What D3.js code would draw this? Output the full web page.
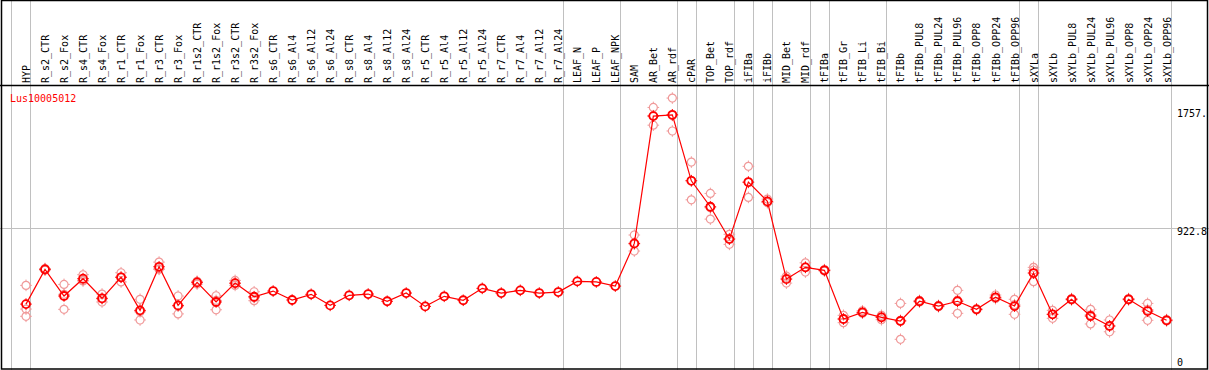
<!DOCTYPE html>
<html lang="en">
<head>
<meta charset="UTF-8">
<title>Lus10005012</title>
<script src="https://cdn.jsdelivr.net/npm/d3@7"></script>
<style>
  body { margin: 0; background: #fff; }
  text { font-family: "DejaVu Sans Mono", monospace; font-size: 10px; }
</style>
</head>
<body>
<script>
// sample names, in drawing order
const samples = ['HYP', 'R_s2_CTR', 'R_s2_Fox', 'R_s4_CTR', 'R_s4_Fox', 'R_r1_CTR', 'R_r1_Fox',
  'R_r3_CTR', 'R_r3_Fox', 'R_r1s2_CTR', 'R_r1s2_Fox', 'R_r3s2_CTR', 'R_r3s2_Fox',
  'R_s6_CTR', 'R_s6_Al4', 'R_s6_Al12', 'R_s6_Al24', 'R_s8_CTR', 'R_s8_Al4', 'R_s8_Al12', 'R_s8_Al24',
  'R_r5_CTR', 'R_r5_Al4', 'R_r5_Al12', 'R_r5_Al24', 'R_r7_CTR', 'R_r7_Al4', 'R_r7_Al12', 'R_r7_Al24',
  'LEAF_N', 'LEAF_P', 'LEAF_NPK', 'SAM', 'AR_Bet', 'AR_rdf', 'cPAR', 'TOP_Bet', 'TOP_rdf',
  'iFIBa', 'iFIBb', 'MID_Bet', 'MID_rdf', 'tFIBa', 'tFIB_Gr', 'tFIB_Li', 'tFIB_Bi',
  'tFIBb', 'tFIBb_PUL8', 'tFIBb_PUL24', 'tFIBb_PUL96', 'tFIBb_OPP8', 'tFIBb_OPP24', 'tFIBb_OPP96',
  'sXYLa', 'sXYLb', 'sXYLb_PUL8', 'sXYLb_PUL24', 'sXYLb_PUL96', 'sXYLb_OPP8', 'sXYLb_OPP24', 'sXYLb_OPP96'];

// mean expression per sample
const means = [389, 634, 446, 568, 430, 578, 345, 652, 380, 542, 404, 537, 441,
  481, 418, 458, 380, 451, 460, 409, 467,
  373, 444, 416, 500, 467, 486, 467, 474,
  549, 545, 516, 817, 1714, 1723, 1258, 1075, 847,
  1249, 1113, 565, 648, 627, 284, 331, 296,
  270, 409, 375, 409, 352, 437, 375,
  608, 317, 423, 305, 235, 423, 340, 275];

// replicate values (null = no replicates shown)
const reps = [[521, 354, 303], [640, 628, 634], [528, 352, 458], [596, 552, 556], [460, 404, 426],
  [610, 545, 579], [423, 277, 335], [685, 634, 637], [446, 320, 374], [550, 530, 546],
  [448, 349, 415], [556, 521, 534], [476, 413, 434],
  null, null, null, null, null, null, null, null,
  null, null, null, null, null, null, null, null,
  null, null, null, [876, 763, 812], [1775, 1650, 1717], [1841, 1609, 1719], [1390, 1124, 1260],
  [1169, 988, 1068], [881, 810, 850], [1360, 1141, 1246], [1129, 1105, 1105],
  [586, 537, 572], [680, 615, 649], [632, 622, 627], [310, 258, 284], [342, 325, 326], [310, 279, 299],
  [394, 141, 275], [415, 403, 409], [380, 370, 375], [486, 324, 417], [356, 348, 352], [453, 430, 428],
  [423, 317, 385], [648, 547, 629], [345, 289, 317], [428, 418, 423], [352, 249, 314], [277, 194, 234],
  [428, 418, 423], [394, 275, 351], [280, 270, 275]];

// number of samples in each tissue group (separated by vertical lines)
const groupSizes = [1, 28, 3, 3, 1, 2, 1, 1, 2, 1, 3, 7, 1, 7];

const yTicks = [0, 922.8, 1757];
const yTickLabels = ['0', '922.8', '1757.'];
const geneName = 'Lus10005012';

const W = 1209, H = 370;
const headerY = 85;

const svg = d3.select('body').append('svg')
  .attr('width', W)
  .attr('height', H);

const x = d3.scalePoint()
  .domain(samples)
  .range([26, 1166.6]);

const y = d3.scaleLinear()
  .domain([0, 1757])
  .range([359.3, 110]);

const step = x.step();

// vertical separators
let bounds = [-1];
let acc = -1;
groupSizes.forEach(n => { acc += n; bounds.push(acc); });

svg.append('g')
  .selectAll('line')
  .data(bounds)
  .enter()
  .append('line')
  .attr('x1', d => Math.round(26 + d * step + 4.4) + 0.5)
  .attr('x2', d => Math.round(26 + d * step + 4.4) + 0.5)
  .attr('y1', 0)
  .attr('y2', H)
  .attr('stroke', '#c0c0c0')
  .attr('stroke-width', 1);

// horizontal gridline at the middle tick
svg.append('line')
  .attr('x1', 0)
  .attr('x2', W)
  .attr('y1', Math.round(y(922.8)) + 0.5)
  .attr('y2', Math.round(y(922.8)) + 0.5)
  .attr('stroke', '#c0c0c0');

// frame and header line
svg.append('rect')
  .attr('x', 1.5).attr('y', 0.5)
  .attr('width', W - 3).attr('height', H - 1.5)
  .attr('fill', 'none')
  .attr('stroke', '#000')
  .attr('stroke-width', 1.5);

svg.append('line')
  .attr('x1', 0).attr('x2', W)
  .attr('y1', headerY + 0.5).attr('y2', headerY + 0.5)
  .attr('stroke', '#000')
  .attr('stroke-width', 1.5);

// sample labels, rotated
svg.append('g')
  .selectAll('text')
  .data(samples)
  .enter()
  .append('text')
  .attr('transform', d => `translate(${Math.round(x(d)) + 3.8},${headerY - 2}) rotate(-90)`)
  .attr('fill', '#000')
  .text(d => d);

// marker drawing: circle with four small ticks
function marker(g, cx, cy, color, sw) {
  const m = g.append('g').attr('transform', `translate(${cx},${cy})`);
  m.append('circle').attr('r', 4).attr('fill', 'none').attr('stroke', color).attr('stroke-width', sw);
  [[0, -1], [0, 1], [-1, 0], [1, 0]].forEach(([dx, dy]) => {
    m.append('line')
      .attr('x1', dx * 4).attr('y1', dy * 4)
      .attr('x2', dx * 5.8).attr('y2', dy * 5.8)
      .attr('stroke', color).attr('stroke-width', 1);
  });
}

// replicates
const repG = svg.append('g');
samples.forEach((s, i) => {
  if (!reps[i]) return;
  reps[i].forEach(v => marker(repG, x(s), y(v), '#f09a9a', 1.2));
});

// mean line
const line = d3.line()
  .x((d, i) => x(samples[i]))
  .y(d => y(d));

svg.append('path')
  .datum(means)
  .attr('d', line)
  .attr('fill', 'none')
  .attr('stroke', '#ff0000')
  .attr('stroke-width', 1.2);

const meanG = svg.append('g');
means.forEach((v, i) => marker(meanG, x(samples[i]), y(v), '#ff0000', 1.8));

// y tick labels on the right
svg.append('g')
  .selectAll('text')
  .data(yTicks)
  .enter()
  .append('text')
  .attr('x', 1177)
  .attr('y', d => y(d) + 6.5)
  .attr('fill', '#000')
  .text((d, i) => yTickLabels[i]);

// gene name
svg.append('text')
  .attr('x', 10)
  .attr('y', 102)
  .attr('fill', '#ff0000')
  .text(geneName);
</script>
</body>
</html>
